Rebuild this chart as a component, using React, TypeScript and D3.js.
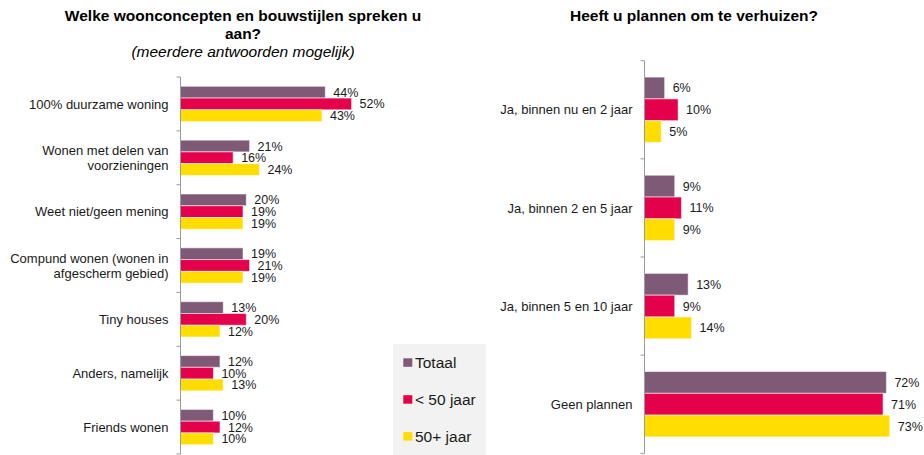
import { useEffect, useRef } from 'react';
import * as d3 from 'd3';

const seriesNames = ['Totaal', '< 50 jaar', '50+ jaar'];
const seriesColors = ['#7f5a77', '#e4004b', '#ffdd00'];

const leftCategories = [
  '100% duurzame woning',
  'Wonen met delen van\nvoorzieningen',
  'Weet niet/geen mening',
  'Compund wonen (wonen in\nafgescherm gebied)',
  'Tiny houses',
  'Anders, namelijk',
  'Friends wonen',
];
const leftTotaal = [44, 21, 20, 19, 13, 12, 10];
const leftUnder50 = [52, 16, 19, 21, 20, 10, 12];
const left50plus = [43, 24, 19, 19, 12, 13, 10];

const rightCategories = [
  'Ja, binnen nu en 2 jaar',
  'Ja, binnen 2 en 5 jaar',
  'Ja, binnen 5 en 10 jaar',
  'Geen plannen',
];
const rightTotaal = [6, 9, 13, 72];
const rightUnder50 = [10, 11, 9, 71];
const right50plus = [5, 9, 14, 73];

const FONT = "'Liberation Sans', Arial, sans-serif";

type Panel = {
  cats: string[];
  values: number[][];
  x0: number;
  xMax: number;
  xEnd: number;
  yTop: number;
  yBottom: number;
  padInner: number;
};

function drawPanel(svg: d3.Selection<SVGSVGElement, unknown, null, undefined>, p: Panel) {
  const g = svg.append('g');
  const x = d3.scaleLinear().domain([0, p.xMax]).range([p.x0, p.xEnd]);
  const y = d3
    .scaleBand()
    .domain(p.cats)
    .range([p.yTop, p.yBottom])
    .paddingInner(p.padInner)
    .paddingOuter(p.padInner / 2);
  const ySub = d3
    .scaleBand()
    .domain(seriesNames)
    .range([0, y.bandwidth()]);

  // bars + labels
  seriesNames.forEach((s, si) => {
    const vals = p.values[si];
    g.selectAll(null)
      .data(p.cats)
      .join('rect')
      .attr('x', x(0))
      .attr('y', (c) => y(c)! + ySub(s)!)
      .attr('width', (_, i) => x(vals[i]) - x(0))
      .attr('height', ySub.bandwidth())
      .attr('fill', seriesColors[si])
      .attr('stroke', 'rgba(255,255,255,0.55)')
      .attr('stroke-width', 1);

    g.selectAll(null)
      .data(p.cats)
      .join('text')
      .attr('x', (_, i) => x(vals[i]) + 8)
      .attr('y', (c) => y(c)! + ySub(s)! + ySub.bandwidth() / 2)
      .attr('dy', '0.36em')
      .attr('font-size', 12.5)
      .attr('fill', '#1a1a1a')
      .text((_, i) => vals[i] + '%');
  });

  // axis line and ticks at band boundaries
  g.append('line')
    .attr('x1', x(0))
    .attr('x2', x(0))
    .attr('y1', p.yTop)
    .attr('y2', p.yBottom)
    .attr('stroke', '#9a9a9a')
    .attr('stroke-width', 1);
  g.selectAll(null)
    .data(d3.range(p.cats.length + 1))
    .join('line')
    .attr('x1', x(0) - 4)
    .attr('x2', x(0))
    .attr('y1', (i) => p.yTop + i * y.step())
    .attr('y2', (i) => p.yTop + i * y.step())
    .attr('stroke', '#9a9a9a')
    .attr('stroke-width', 1);

  // category labels
  g.selectAll(null)
    .data(p.cats)
    .join('text')
    .attr('text-anchor', 'end')
    .attr('font-size', 13)
    .attr('fill', '#1a1a1a')
    .each(function (c) {
      const lines = c.split('\n');
      const cy = y(c)! + y.bandwidth() / 2;
      const lh = 15;
      lines.forEach((l, li) => {
        d3.select(this)
          .append('tspan')
          .attr('x', x(0) - 12)
          .attr('y', cy + (li - (lines.length - 1) / 2) * lh)
          .attr('dy', '0.36em')
          .text(l);
      });
    });
}

export default function App() {
  const svgRef = useRef<SVGSVGElement>(null);

  useEffect(() => {
    if (!svgRef.current) return;
    const svg = d3.select(svgRef.current);
    svg.selectAll('*').remove();
    svg.attr('font-family', FONT);

    // left titles
    svg.append('text')
      .attr('x', 243).attr('y', 21)
      .attr('text-anchor', 'middle').attr('font-size', 15.5).attr('font-weight', 'bold')
      .text('Welke woonconcepten en bouwstijlen spreken u');
    svg.append('text')
      .attr('x', 243).attr('y', 39)
      .attr('text-anchor', 'middle').attr('font-size', 15.5).attr('font-weight', 'bold')
      .text('aan?');
    svg.append('text')
      .attr('x', 243).attr('y', 57)
      .attr('text-anchor', 'middle').attr('font-size', 15.5).attr('font-style', 'italic')
      .text('(meerdere antwoorden mogelijk)');

    // right title
    svg.append('text')
      .attr('x', 694).attr('y', 20.5)
      .attr('text-anchor', 'middle').attr('font-size', 15.5).attr('font-weight', 'bold')
      .text('Heeft u plannen om te verhuizen?');

    drawPanel(svg, {
      cats: leftCategories,
      values: [leftTotaal, leftUnder50, left50plus],
      x0: 180.5,
      xMax: 60,
      xEnd: 180.5 + 197.4,
      yTop: 77,
      yBottom: 454,
      padInner: 0.345,
    });

    drawPanel(svg, {
      cats: rightCategories,
      values: [rightTotaal, rightUnder50, right50plus],
      x0: 644.5,
      xMax: 80,
      xEnd: 644.5 + 268.8,
      yTop: 60.7,
      yBottom: 453.3,
      padInner: 0.334,
    });

    // legend
    const lg = svg.append('g');
    lg.append('rect')
      .attr('x', 393).attr('y', 344).attr('width', 93).attr('height', 111)
      .attr('fill', '#f2f2f2');
    seriesNames.forEach((s, i) => {
      lg.append('rect')
        .attr('x', 403.3).attr('y', 358.3 + i * 36.9)
        .attr('width', 9).attr('height', 8.5)
        .attr('fill', seriesColors[i]);
      lg.append('text')
        .attr('x', 415).attr('y', 367.7 + i * 36.9)
        .attr('font-size', 15.5).attr('fill', '#1a1a1a')
        .text(s);
    });
  }, []);

  return (
    <svg
      ref={svgRef}
      width={924}
      height={455}
      style={{ position: 'absolute', left: 0, top: 0, background: '#fff' }}
    ></svg>
  );
}
